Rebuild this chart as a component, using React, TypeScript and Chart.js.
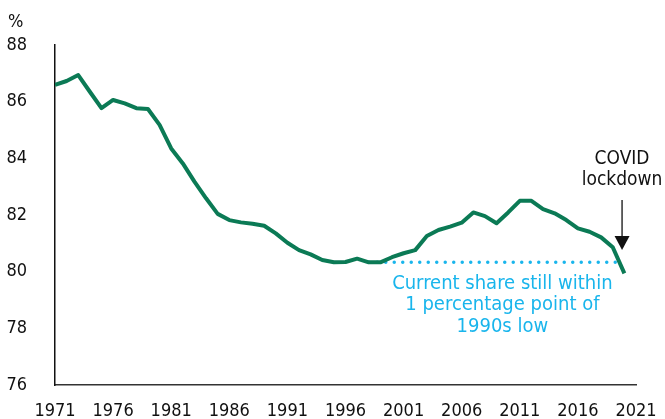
import React, { useEffect, useRef } from "react";
import { Chart, registerables } from "chart.js";

Chart.register(...registerables);

const years = [
  1971, 1972, 1973, 1974, 1975, 1976, 1977, 1978, 1979, 1980,
  1981, 1982, 1983, 1984, 1985, 1986, 1987, 1988, 1989, 1990,
  1991, 1992, 1993, 1994, 1995, 1996, 1997, 1998, 1999, 2000,
  2001, 2002, 2003, 2004, 2005, 2006, 2007, 2008, 2009, 2010,
  2011, 2012, 2013, 2014, 2015, 2016, 2017, 2018, 2019, 2020,
];
const share = [
  86.59, 86.73, 86.94, 86.35, 85.77, 86.06, 85.94, 85.77, 85.74, 85.18,
  84.35, 83.82, 83.18, 82.59, 82.04, 81.82, 81.74, 81.69, 81.62, 81.35,
  81.02, 80.76, 80.61, 80.41, 80.33, 80.34, 80.46, 80.33, 80.33, 80.51,
  80.65, 80.76, 81.26, 81.47, 81.59, 81.73, 82.09, 81.96, 81.71, 82.09,
  82.5, 82.5, 82.21, 82.06, 81.82, 81.53, 81.41, 81.21, 80.86, 79.94,
];
const lowYears = [1998, 2019.8];
const lowLevel = [80.33, 80.33];
const xTicks = [1971, 1976, 1981, 1986, 1991, 1996, 2001, 2006, 2011, 2016, 2021];
const yTicks = [76, 78, 80, 82, 84, 86, 88];
const noteLines = ["Current share still within", "1 percentage point of", "1990s low"];
const covidLines = ["COVID", "lockdown"];

const FONT = "'Liberation Sans Narrow', 'DejaVu Sans Condensed', 'Liberation Sans', sans-serif";
const GREEN = "#0b7a55";
const CYAN = "#19b5ec";

const annotationPlugin = {
  id: "annot",
  afterDraw(chart: any) {
    const { ctx, scales } = chart;
    const xs = scales.x;
    const ys = scales.y;
    ctx.save();
    // % unit label
    ctx.fillStyle = "#111";
    ctx.font = `18px ${FONT}`;
    ctx.textAlign = "left";
    ctx.textBaseline = "middle";
    ctx.fillText("%", 8, 22);

    // COVID label and arrow
    const ax = xs.getPixelForValue(2019.8);
    ctx.textAlign = "center";
    ctx.font = `19px ${FONT}`;
    ctx.fillText(covidLines[0], ax, 159);
    ctx.fillText(covidLines[1], ax, 180);
    ctx.strokeStyle = "#111";
    ctx.lineWidth = 1.3;
    ctx.beginPath();
    ctx.moveTo(ax, 200);
    ctx.lineTo(ax, 238);
    ctx.stroke();
    ctx.beginPath();
    ctx.moveTo(ax - 7.5, 236);
    ctx.lineTo(ax + 7.5, 236);
    ctx.lineTo(ax, 250);
    ctx.closePath();
    ctx.fill();

    // cyan note
    const nx = xs.getPixelForValue(2009.5);
    const ny = ys.getPixelForValue(80.33);
    ctx.fillStyle = CYAN;
    ctx.font = `20px ${FONT}`;
    noteLines.forEach((t, i) => ctx.fillText(t, nx, ny + 21 + i * 21.7));
    ctx.restore();
  },
};

export default function App() {
  const ref = useRef<HTMLCanvasElement>(null);
  useEffect(() => {
    document.body.style.margin = "0";
    const chart = new Chart(ref.current!, {
      type: "line",
      data: {
        datasets: [
          {
            data: lowYears.map((x, i) => ({ x, y: lowLevel[i] })),
            borderColor: CYAN,
            borderWidth: 3.5,
            borderDash: [0, 8.5],
            borderCapStyle: "round",
            pointRadius: 0,
            order: 1,
          },
          {
            data: years.map((x, i) => ({ x, y: share[i] })),
            borderColor: GREEN,
            borderWidth: 4,
            pointRadius: 0,
            tension: 0,
            borderJoinStyle: "round",
            order: 0,
          },
        ],
      },
      options: {
        animation: false,
        responsive: false,
        maintainAspectRatio: false,
        layout: { padding: { left: 0, right: 29, top: 45, bottom: 0 } },
        plugins: { legend: { display: false }, tooltip: { enabled: false } },
        scales: {
          x: {
            type: "linear",
            min: 1971,
            max: 2021,
            afterBuildTicks: (s: any) => {
              s.ticks = xTicks.map((v) => ({ value: v }));
            },
            afterFit: (s: any) => {
              s.height = 34;
            },
            grid: {
              display: true,
              drawOnChartArea: false,
              drawTicks: true,
              tickLength: 16,
              color: "rgba(0,0,0,0)",
            },
            border: { display: true, color: "#333", width: 1.5 },
            ticks: {
              color: "#111",
              font: { family: FONT, size: 18 },
              padding: 0,
              maxRotation: 0,
              autoSkip: false,
              callback: (v: any) => String(v),
            },
          },
          y: {
            min: 76,
            max: 88,
            afterBuildTicks: (s: any) => {
              s.ticks = yTicks.map((v) => ({ value: v }));
            },
            afterFit: (s: any) => {
              s.width = 55;
            },
            grid: {
              display: true,
              drawOnChartArea: false,
              drawTicks: true,
              tickLength: 28,
              color: "rgba(0,0,0,0)",
            },
            border: { display: true, color: "#111", width: 1.5 },
            ticks: {
              color: "#111",
              font: { family: FONT, size: 18 },
              padding: 0,
              callback: (v: any) => String(v),
            },
          },
        },
      },
      plugins: [annotationPlugin],
    });
    return () => chart.destroy();
  }, []);
  return <canvas ref={ref} width={665} height={419} style={{ display: "block" }} />;
}
